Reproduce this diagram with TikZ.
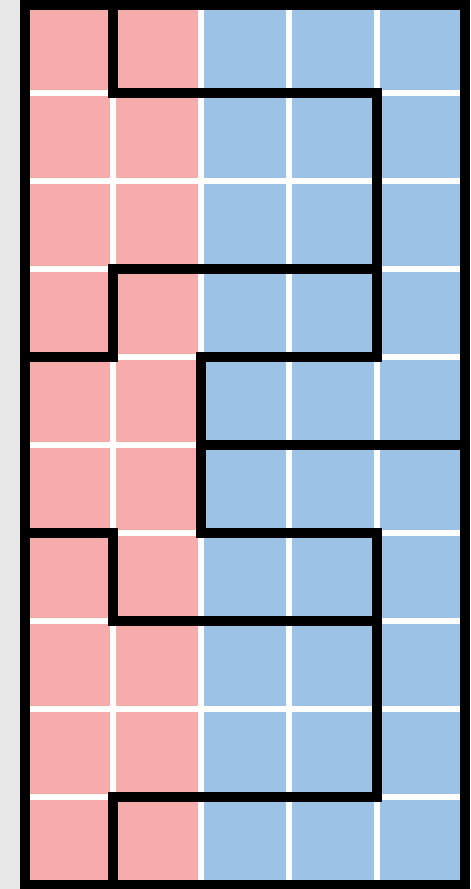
\documentclass[tikz,border=0pt]{standalone}
\usepackage{tikz}
\usepackage{xcolor}
\definecolor{Paper}{HTML}{E8E8E8}
\definecolor{Rose}{HTML}{F6ACAA}
\definecolor{Sky}{HTML}{9CC2E6}
\definecolor{Ink}{HTML}{000000}
\newcommand{\tile}[3]{
  \fill[#3] (#1+0.035,#2+0.035) rectangle (#1+0.965,#2+0.965);
}

\begin{document}
\begin{tikzpicture}[x=1.76cm, y=-1.76cm,
    wall/.style={Ink, line width=0.21cm, line cap=rect, line join=miter}]
    \useasboundingbox (-0.2841,-0.0568) rectangle (5.0568,10.0455);
    \fill[Paper] (-0.2841,-0.0568) rectangle (5.0568,10.0455);
    \fill[white] (0,0) rectangle (5,10);
    \foreach \r in {0,...,9} {
      \foreach \c in {0,1} { \tile{\c}{\r}{Rose} }
      \foreach \c in {2,3,4} { \tile{\c}{\r}{Sky} }
    }
    % walls
    \draw[wall] (0,0) rectangle (5,10);
    \draw[wall] (1,0) -- (1,1) -- (4,1) -- (4,4) -- (2,4) -- (2,6) -- (4,6) -- (4,9) -- (1,9) -- (1,10);
    \draw[wall] (4,3) -- (1,3) -- (1,4) -- (0,4);
    \draw[wall] (2,5) -- (5,5);
    \draw[wall] (0,6) -- (1,6) -- (1,7) -- (4,7);
  \end{tikzpicture}
\end{document}
